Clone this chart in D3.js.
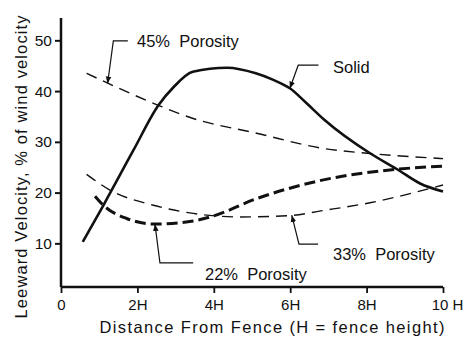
<!DOCTYPE html>
<html><head><meta charset="utf-8">
<script src="https://cdn.jsdelivr.net/npm/d3@7"></script>
<style>body{margin:0;background:#fff}svg{display:block}text{font-family:"Liberation Sans",Arial,sans-serif;fill:#111}</style>
</head><body>
<script>
const xTicks = [0,2,4,6,8,10];
const xTickLabels = ["0","2H","4H","6H","8H","10 H"];
const yTicks = [10,20,30,40,50];

const solidX = [0.57,1.11,1.9,2.55,2.95,3.45,4.35,5.1,5.56,6.0,6.43,6.9,8.1,8.8,9.4,10.0];
const solidV = [10.3,17.5,28.4,37.2,40.8,43.8,44.6,43.5,42.2,40.5,37.6,34.3,27.7,24.6,21.8,20.2];
const p45X = [0.67,1.24,2.55,3.46,5.12,6.87,8.09,10.0];
const p45V = [43.5,41.5,37.2,34.6,31.7,28.7,27.7,26.7];
const p22X = [0.89,1.11,1.72,2.46,3.46,3.99,5.12,6.87,8.79,10.0];
const p22V = [19.3,17.5,14.9,13.8,14.4,15.4,18.8,22.5,24.6,25.2];
const p33X = [0.67,1.28,2.42,3.46,4.68,6.03,6.8,8.09,10.0];
const p33V = [23.6,20.5,17.5,15.9,15.2,15.5,16.4,18.0,21.5];

const labels = ["Solid","45%  Porosity","33%  Porosity","22%  Porosity"];
// annotation anchors in data units: tip, corner, end, text position
const notes = [
  {text:labels[1], tip:[1.22,41.5], corner:[1.37,49.9], end:[1.75,49.9], pos:[1.99,48.7]},
  {text:labels[0], tip:[5.99,40.5], corner:[6.21,45.1], end:[6.74,45.1], pos:[7.12,43.5]},
  {text:labels[2], tip:[6.04,15.55], corner:[6.23,9.84], end:[6.73,9.84], pos:[7.12,6.7]},
  {text:labels[3], tip:[2.46,13.8], corner:[2.59,6.15], end:[3.46,6.15], pos:[3.77,2.74]}
];

const W=469,H=357;
const svg=d3.select("body").append("svg").attr("width",W).attr("height",H);
const x=d3.scaleLinear().domain([0,10]).range([61,443]);
const y=d3.scaleLinear().domain([1.4,54.4]).range([287,18]);

svg.append("defs").append("marker").attr("id","arr").attr("viewBox","0 0 10 10")
  .attr("refX",10).attr("refY",5).attr("markerWidth",7).attr("markerHeight",9)
  .attr("markerUnits","userSpaceOnUse").attr("orient","auto")
  .append("path").attr("d","M0,1 L10,5 L0,9 Z").attr("fill","#111");

// axes
const yAx=svg.append("g").attr("transform","translate(61,0)")
  .call(d3.axisLeft(y).tickValues(yTicks).tickSize(6).tickPadding(3).tickFormat(d3.format("d")));
yAx.select(".domain").attr("d","M0,18V287").attr("stroke","#111").attr("stroke-width",2.5);
yAx.selectAll(".tick line").attr("stroke","#111").attr("stroke-width",2);
yAx.selectAll(".tick text").attr("font-size",15.5).attr("fill","#111").attr("font-family","Liberation Sans, Arial, sans-serif");

const xAx=svg.append("g").attr("transform","translate(0,287)")
  .call(d3.axisBottom(x).tickValues(xTicks).tickSize(6).tickPadding(6).tickFormat((d,i)=>xTickLabels[i]));
xAx.select(".domain").attr("d","M61,0H443").attr("stroke","#111").attr("stroke-width",2.5);
xAx.selectAll(".tick line").attr("stroke","#111").attr("stroke-width",1.8);
xAx.selectAll(".tick text").attr("font-size",15).attr("fill","#111").attr("font-family","Liberation Sans, Arial, sans-serif");
xAx.selectAll(".tick").filter(d=>d===10).select("text").attr("dx",4);

svg.append("text").attr("x",272).attr("y",333).attr("text-anchor","middle")
  .attr("font-size",16.5).attr("textLength",345).attr("lengthAdjust","spacing")
  .text("Distance From Fence (H = fence height)");
svg.append("text").attr("transform","translate(27,167) rotate(-90)").attr("text-anchor","middle")
  .attr("font-size",16.5).attr("textLength",303).attr("lengthAdjust","spacing")
  .text("Leeward Velocity, % of wind velocity");

const line=d3.line().x(d=>x(d[0])).y(d=>y(d[1])).curve(d3.curveMonotoneX);
const series=[
  {xs:p45X,vs:p45V,w:1.4,dash:"11,7"},
  {xs:p33X,vs:p33V,w:1.4,dash:"11,7"},
  {xs:p22X,vs:p22V,w:3,dash:"11,5"},
  {xs:solidX,vs:solidV,w:2.6,dash:null}
];
series.forEach(s=>{
  svg.append("path").datum(s.xs.map((v,i)=>[v,s.vs[i]]))
    .attr("d",line).attr("fill","none").attr("stroke","#111")
    .attr("stroke-width",s.w).attr("stroke-dasharray",s.dash);
});

notes.forEach(n=>{
  svg.append("path")
    .attr("d",`M${x(n.end[0])},${y(n.end[1])}L${x(n.corner[0])},${y(n.corner[1])}L${x(n.tip[0])},${y(n.tip[1])}`)
    .attr("fill","none").attr("stroke","#111").attr("stroke-width",1.2).attr("marker-end","url(#arr)");
  svg.append("text").attr("x",x(n.pos[0])).attr("y",y(n.pos[1])).attr("font-size",16.5)
    .attr("xml:space","preserve").style("white-space","pre").text(n.text);
});
</script>
</body></html>
